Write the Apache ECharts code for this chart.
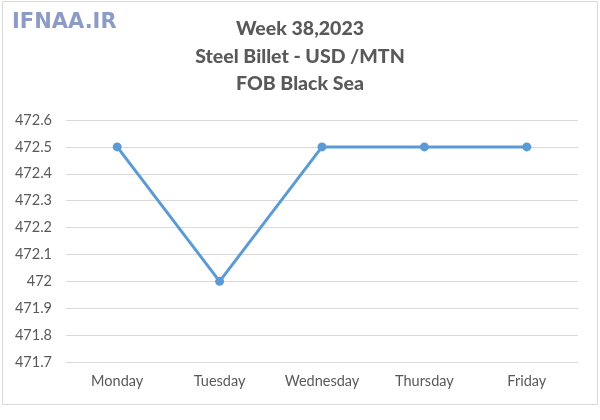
<!DOCTYPE html>
<html>
<head>
<meta charset="utf-8">
<script src="https://cdn.jsdelivr.net/npm/echarts@6/dist/echarts.min.js"></script>
<style>
html,body{margin:0;padding:0;background:#fff;}
#chart{width:600px;height:420px;}
</style>
</head>
<body>
<div id="chart"></div>
<script>
const categories = ['Monday', 'Tuesday', 'Wednesday', 'Thursday', 'Friday'];
const prices = [472.5, 472.0, 472.5, 472.5, 472.5];
const titleLines = ['Week 38,2023', 'Steel Billet - USD /MTN', 'FOB Black Sea'];
const yMin = 471.7, yMax = 472.6, yStep = 0.1;

const chart = echarts.init(document.getElementById('chart'), null, {renderer: 'canvas'});
const font = 'Lato, "Open Sans", sans-serif';
chart.setOption({
  animation: false,
  backgroundColor: '#fff',
  title: {
    text: titleLines.join('\n'),
    left: 'center',
    top: 10,
    textStyle: {fontFamily: font, fontSize: 19.5, fontWeight: 900, color: '#595959', lineHeight: 27.5}
  },
  graphic: [
    {type: 'rect', shape: {x: 2.5, y: 1.5, width: 595, height: 403}, style: {fill: 'none', stroke: '#d9d9d9', lineWidth: 1}, silent: true},
    {type: 'text', left: 12, top: 12, style: {text: 'IFNAA.IR', fontFamily: 'Verdana, "DejaVu Sans", sans-serif', fontSize: 21, fontWeight: 'bold', fill: '#8d9cc6', shadowColor: 'rgba(80,80,120,0.45)', shadowBlur: 3, shadowOffsetX: 1, shadowOffsetY: 1}}
  ],
  grid: {left: 66, right: 22, top: 120, bottom: 58},
  xAxis: {
    type: 'category',
    data: categories,
    boundaryGap: true,
    axisLine: {show: false},
    axisTick: {show: false},
    axisLabel: {margin: 12, fontFamily: font, fontSize: 14.5, color: '#595959'}
  },
  yAxis: {
    type: 'value',
    min: yMin, max: yMax, interval: yStep,
    axisLine: {show: false},
    axisTick: {show: false},
    splitLine: {lineStyle: {color: '#d9d9d9', width: 1}},
    axisLabel: {
      margin: 14, fontFamily: font, fontSize: 14.5, color: '#595959',
      formatter: v => String(parseFloat(v.toFixed(1)))
    }
  },
  series: [{
    type: 'line',
    data: prices,
    symbol: 'circle',
    symbolSize: 9,
    lineStyle: {color: '#5b9bd5', width: 3},
    itemStyle: {color: '#5b9bd5'}
  }]
});
</script>
</body>
</html>
